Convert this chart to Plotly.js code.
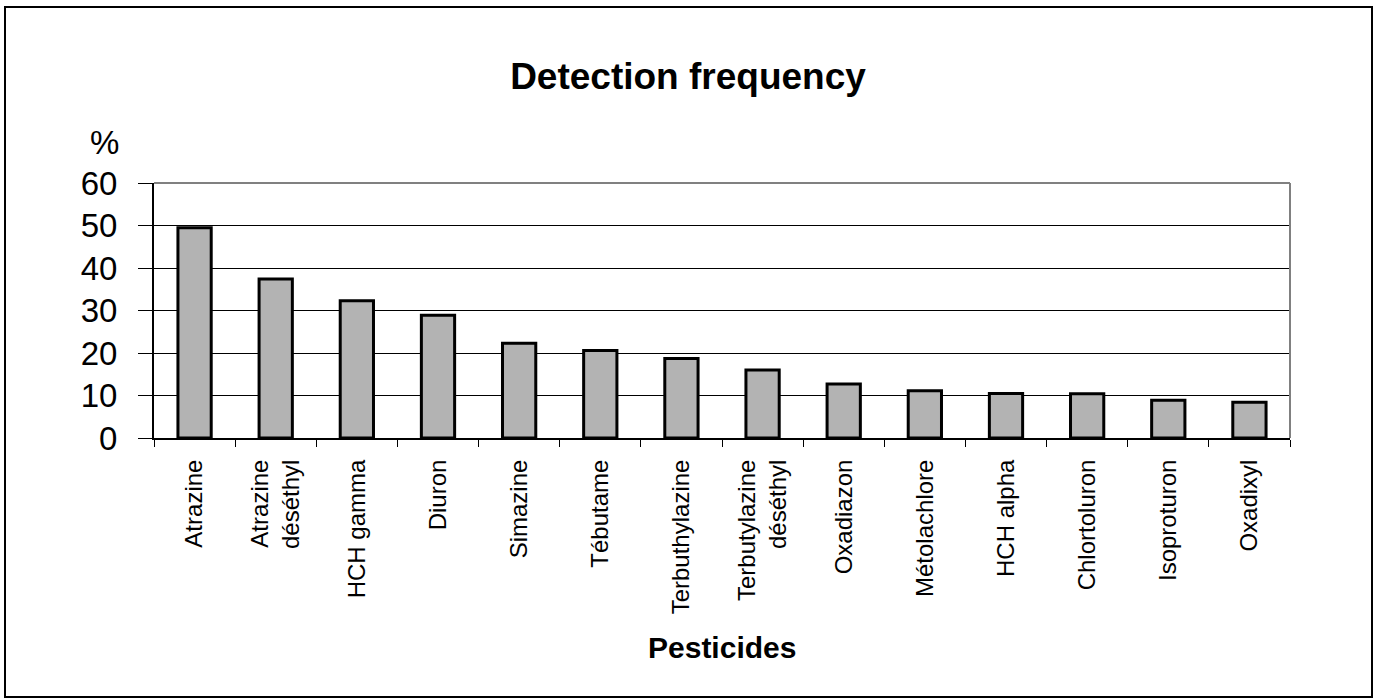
<!DOCTYPE html>
<html>
<head>
<meta charset="utf-8">
<script src="https://cdn.plot.ly/plotly-3.0.1.min.js"></script>
<style>
  html, body { margin: 0; padding: 0; background: #fff; }
  #wrap { position: relative; width: 1376px; height: 698px; }
  #chart { position: absolute; left: 0; top: 0; width: 1376px; height: 698px; }
  #frame { position: absolute; left: 4px; top: 6px; width: 1365px; height: 688px; border: 2px solid #000; pointer-events: none; }
</style>
</head>
<body>
<div id="wrap">
  <div id="chart"></div>
  <div id="frame"></div>
</div>
<script>
const categories = [
  "Atrazine", "Atrazine<br>déséthyl", "HCH gamma", "Diuron", "Simazine", "Tébutame",
  "Terbuthylazine", "Terbutylazine<br>déséthyl", "Oxadiazon", "Métolachlore",
  "HCH alpha", "Chlortoluron", "Isoproturon", "Oxadixyl"
];
const detectionPercent = [49.5, 37.4, 32.3, 28.9, 22.3, 20.6, 18.7, 16.0, 12.7, 11.1, 10.5, 10.4, 8.9, 8.4];
const yTickValues = [0, 10, 20, 30, 40, 50, 60];
const titleText = "Detection frequency";
const xTitleText = "Pesticides";
const yUnitText = "%";

const FONT = "Arial, 'Liberation Sans', sans-serif";

const trace = {
  type: "bar",
  x: categories,
  y: detectionPercent,
  marker: { color: "#b3b3b3", line: { color: "#000", width: 3 } },
  hoverinfo: "x+y"
};

const layout = {
  width: 1376,
  height: 698,
  paper_bgcolor: "#fff",
  plot_bgcolor: "#fff",
  showlegend: false,
  bargap: 0.59,
  margin: { l: 154, r: 86, t: 183, b: 260, pad: 0 },
  font: { family: FONT, color: "#000" },
  title: {
    text: "<b>" + titleText + "</b>",
    font: { family: FONT, size: 37, color: "#000" },
    x: 0.5, xref: "container", xanchor: "center",
    y: 1 - 76 / 698, yref: "container", yanchor: "middle"
  },
  xaxis: {
    type: "category",
    tickangle: -90,
    tickfont: { family: FONT, size: 24, color: "#000" },
    ticks: "outside",
    tickson: "boundaries",
    ticklen: 7,
    tickwidth: 1,
    tickcolor: "#000",
    ticklabelstandoff: 10,
    showline: true,
    linecolor: "#000",
    linewidth: 2,
    showgrid: false,
    zeroline: false,
    automargin: false
  },
  yaxis: {
    range: [0, 60],
    tickvals: yTickValues,
    ticktext: yTickValues.map(String),
    tickfont: { family: FONT, size: 33, color: "#000" },
    ticks: "outside",
    ticklen: 14,
    tickwidth: 1,
    tickcolor: "#000",
    ticklabelstandoff: 14,
    showline: true,
    linecolor: "#000",
    linewidth: 2,
    showgrid: true,
    gridcolor: "#000",
    gridwidth: 1,
    zeroline: false,
    automargin: false
  },
  shapes: [
    { type: "line", xref: "paper", yref: "paper", x0: 0, x1: 1, y0: 1, y1: 1, line: { color: "#808080", width: 2 } },
    { type: "line", xref: "paper", yref: "paper", x0: 1, x1: 1, y0: 0, y1: 1, line: { color: "#808080", width: 2 } }
  ],
  annotations: [
    {
      text: "<b>" + xTitleText + "</b>",
      xref: "paper", yref: "paper",
      x: 0.5, y: (438 - 647) / 255,
      xanchor: "center", yanchor: "middle",
      showarrow: false,
      font: { family: FONT, size: 30, color: "#000" }
    },
    {
      text: yUnitText,
      xref: "paper", yref: "paper",
      x: (121 - 154) / 1136, y: (438 - 143) / 255,
      xanchor: "right", yanchor: "middle",
      showarrow: false,
      font: { family: FONT, size: 33, color: "#000" }
    }
  ]
};

Plotly.newPlot("chart", [trace], layout, { displayModeBar: false, staticPlot: true });
</script>
</body>
</html>
